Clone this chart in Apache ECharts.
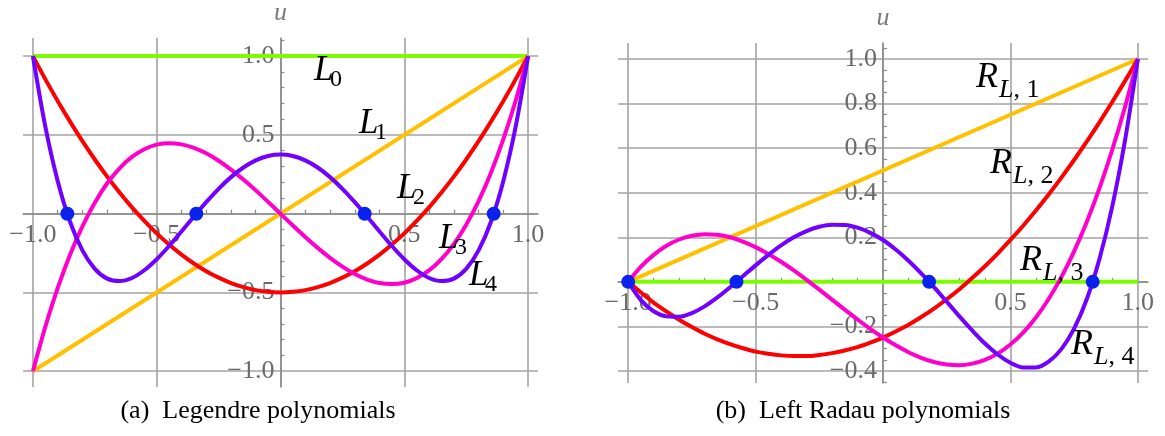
<!DOCTYPE html>
<html><head><meta charset="utf-8">
<script src="https://cdn.jsdelivr.net/npm/echarts@6/dist/echarts.min.js"></script>
<style>html,body{margin:0;padding:0;background:#fff}#c{width:1165px;height:436px}</style>
</head><body><div id="c"></div>
<script>
// sample abscissae
const xs = [-1,-0.95,-0.9,-0.85,-0.8,-0.75,-0.7,-0.65,-0.6,-0.55,-0.5,-0.45,-0.4,-0.35,-0.3,-0.25,-0.2,-0.15,-0.1,-0.05,0,0.05,0.1,0.15,0.2,0.25,0.3,0.35,0.4,0.45,0.5,0.55,0.6,0.65,0.7,0.75,0.8,0.85,0.9,0.95,1];
const xEnds = [-1, 1];
// (a) Legendre polynomials
const legL0 = [1, 1];
const legL1 = [-1, 1];
const legL2 = [1,0.854,0.715,0.584,0.46,0.344,0.235,0.134,0.04,-0.046,-0.125,-0.196,-0.26,-0.316,-0.365,-0.406,-0.44,-0.466,-0.485,-0.496,-0.5,-0.496,-0.485,-0.466,-0.44,-0.406,-0.365,-0.316,-0.26,-0.196,-0.125,-0.046,0.04,0.134,0.235,0.344,0.46,0.584,0.715,0.854,1];
const legL3 = [-1,-0.718,-0.473,-0.26,-0.08,0.07,0.193,0.288,0.36,0.409,0.438,0.447,0.44,0.418,0.383,0.336,0.28,0.217,0.148,0.075,0,-0.075,-0.148,-0.217,-0.28,-0.336,-0.383,-0.418,-0.44,-0.447,-0.438,-0.409,-0.36,-0.288,-0.193,-0.07,0.08,0.26,0.473,0.718,1];
const legL4 = [1,0.554,0.208,-0.051,-0.233,-0.35,-0.412,-0.428,-0.408,-0.359,-0.289,-0.205,-0.113,-0.019,0.073,0.158,0.232,0.293,0.338,0.366,0.375,0.366,0.338,0.293,0.232,0.158,0.073,-0.019,-0.113,-0.205,-0.289,-0.359,-0.408,-0.428,-0.412,-0.35,-0.233,-0.051,0.208,0.554,1];
const legRoots = [-0.861, -0.34, 0.34, 0.861];
// (b) Left Radau polynomials
const radR0 = [0, 0];
const radR1 = [0, 1];
const radR2 = [0,-0.048,-0.093,-0.133,-0.17,-0.203,-0.233,-0.258,-0.28,-0.298,-0.313,-0.323,-0.33,-0.333,-0.333,-0.328,-0.32,-0.308,-0.293,-0.273,-0.25,-0.223,-0.193,-0.158,-0.12,-0.078,-0.033,0.017,0.07,0.127,0.188,0.252,0.32,0.392,0.468,0.547,0.63,0.717,0.808,0.902,1];
const radR3 = [0,0.068,0.121,0.162,0.19,0.207,0.214,0.211,0.2,0.181,0.156,0.125,0.09,0.051,0.009,-0.035,-0.08,-0.125,-0.169,-0.211,-0.25,-0.285,-0.316,-0.341,-0.36,-0.371,-0.374,-0.367,-0.35,-0.322,-0.281,-0.228,-0.16,-0.077,0.021,0.137,0.27,0.422,0.594,0.786,1];
const radR4 = [0,-0.082,-0.132,-0.155,-0.157,-0.14,-0.11,-0.07,-0.024,0.025,0.074,0.121,0.164,0.2,0.228,0.247,0.256,0.255,0.243,0.22,0.188,0.145,0.095,0.038,-0.024,-0.089,-0.155,-0.218,-0.277,-0.326,-0.363,-0.384,-0.384,-0.358,-0.302,-0.21,-0.077,0.105,0.34,0.636,1];
const radRoots = [-1, -0.575, 0.181, 0.823];
// tick labels
const legXTicks = [-1, -0.5, 0.5, 1];
const legYTicks = [-1, -0.5, 0.5, 1];
const radXTicks = [-1, -0.5, 0.5, 1];
const radYTicks = [-0.4, -0.2, 0.2, 0.4, 0.6, 0.8, 1];

const C = {g:'#7CFC00', o:'#FFC000', r:'#FF0000', m:'#FF00CC', p:'#7000FF', dot:'#0A22EE'};
const SERIF = 'Liberation Serif';
const GRID = '#a3a3a3', AXIS = '#8a8a8a', LABEL = '#6a6a6a';

const grids = [
  {left:23, top:38, width:515, height:349, containLabel:false, outerBoundsMode:'none'},
  {left:618, top:43, width:530, height:340, containLabel:false, outerBoundsMode:'none'}
];

function fmt(ticks){
  return function(v){
    const hit = ticks.find(t => Math.abs(t - v) < 1e-6);
    if (hit === undefined) return '';
    return (hit < 0 ? '\u2212' : '') + Math.abs(hit).toFixed(1);
  };
}
function axisCommon(ticks, minorSplit, margin){
  return {
    type:'value',
    axisLine:{show:true, onZero:false, lineStyle:{color:AXIS, width:1.5}},
    axisTick:{show:false, inside:true},
    minorTick:{show:true, splitNumber:minorSplit, length:4, lineStyle:{color:AXIS, width:1.2}},
    splitLine:{show:true, showMinLine:false, showMaxLine:false, lineStyle:{color:GRID, width:1.6}},
    axisLabel:{showMinLabel:false, showMaxLabel:false, margin:margin, fontSize:26, fontFamily:SERIF, color:LABEL, formatter:fmt(ticks)}
  };
}
function xAx(gi, ticks){
  return Object.assign(axisCommon(ticks, 5, 8), {gridIndex:gi, position:'bottom', min:-1.04, max:1.04, splitNumber:5});
}
function yAx(gi, ticks, min, max, split, minorSplit){
  return Object.assign(axisCommon(ticks, minorSplit, 6), {gridIndex:gi, position:'left', min:min, max:max, splitNumber:split,
    name:'u', nameLocation:'end', nameGap:12,
    nameTextStyle:{fontFamily:SERIF, fontStyle:'italic', fontSize:26, color:'#7a7a7a'}});
}
function curve(gi, xv, yv, color){
  return {type:'line', xAxisIndex:gi, yAxisIndex:gi, data:xv.map((x,i)=>[x, yv[i]]),
    showSymbol:false, smooth:0.3, z:2, lineStyle:{color:color, width:4}, itemStyle:{color:color},
    silent:true};
}
function dots(gi, roots){
  return {type:'scatter', xAxisIndex:gi, yAxisIndex:gi, data:roots.map(r=>[r, 0]),
    symbolSize:14, z:10, itemStyle:{color:C.dot, opacity:1}, silent:true};
}
function lLab(x, y, sub){
  return [
    {type:'text', x:x, y:y, z:100, style:{text:'L', font:'italic 35px ' + SERIF, fill:'#000', align:'left', verticalAlign:'middle'}},
    {type:'text', x:x+16, y:y+9, z:100, style:{text:sub, font:'24px ' + SERIF, fill:'#000', align:'left', verticalAlign:'middle'}}
  ];
}
function rLab(x, y, sub){
  return [
    {type:'text', x:x, y:y, z:100, style:{text:'R', font:'italic 36px ' + SERIF, fill:'#000', align:'left', verticalAlign:'middle'}},
    {type:'text', x:x+23, y:y+12, z:100, style:{text:'{i|L}{n|, ' + sub + '}', fill:'#000', align:'left', verticalAlign:'middle',
      rich:{i:{fontStyle:'italic', fontSize:26, fontFamily:SERIF, fill:'#000'}, n:{fontSize:26, fontFamily:SERIF, fill:'#000'}}}}
  ];
}

const chart = echarts.init(document.getElementById('c'), null, {renderer:'canvas'});
chart.setOption({
  animation:false,
  backgroundColor:'#fff',
  grid:grids,
  xAxis:[xAx(0, legXTicks), xAx(1, radXTicks)],
  yAxis:[yAx(0, legYTicks, -1.1, 1.115, 5, 5), yAx(1, radYTicks, -0.454, 1.072, 7, 4)],
  series:[
    curve(0, xEnds, legL0, C.g),
    curve(0, xEnds, legL1, C.o),
    curve(0, xs, legL2, C.r),
    curve(0, xs, legL3, C.m),
    curve(0, xs, legL4, C.p),
    dots(0, legRoots),
    curve(1, xEnds, radR0, C.g),
    curve(1, xEnds, radR1, C.o),
    curve(1, xs, radR2, C.r),
    curve(1, xs, radR3, C.m),
    curve(1, xs, radR4, C.p),
    dots(1, radRoots)
  ],
  graphic:[].concat(
    lLab(314, 71, '0'), lLab(359, 124, '1'), lLab(397, 189, '2'), lLab(439, 239, '3'), lLab(469, 276, '4'),
    rLab(976, 78, '1'), rLab(990, 164, '2'), rLab(1020, 261, '3'), rLab(1071, 345, '4'),
    [
      {type:'text', x:258, y:411, style:{text:'(a)  Legendre polynomials', font:'26px ' + SERIF, fill:'#000', align:'center', verticalAlign:'middle'}},
      {type:'text', x:863, y:411, style:{text:'(b)  Left Radau polynomials', font:'26px ' + SERIF, fill:'#000', align:'center', verticalAlign:'middle'}}
    ]
  )
});
// move both axes of each panel onto the origin (the axes cross at 0,0)
const xOff = [], yOff = [];
grids.forEach((g, gi) => {
  const p = chart.convertToPixel({gridIndex:gi}, [0, 0]);
  xOff.push({offset: -((g.top + g.height) - p[1])});
  yOff.push({offset: -(p[0] - g.left)});
});
chart.setOption({xAxis:xOff, yAxis:yOff});
</script></body></html>
